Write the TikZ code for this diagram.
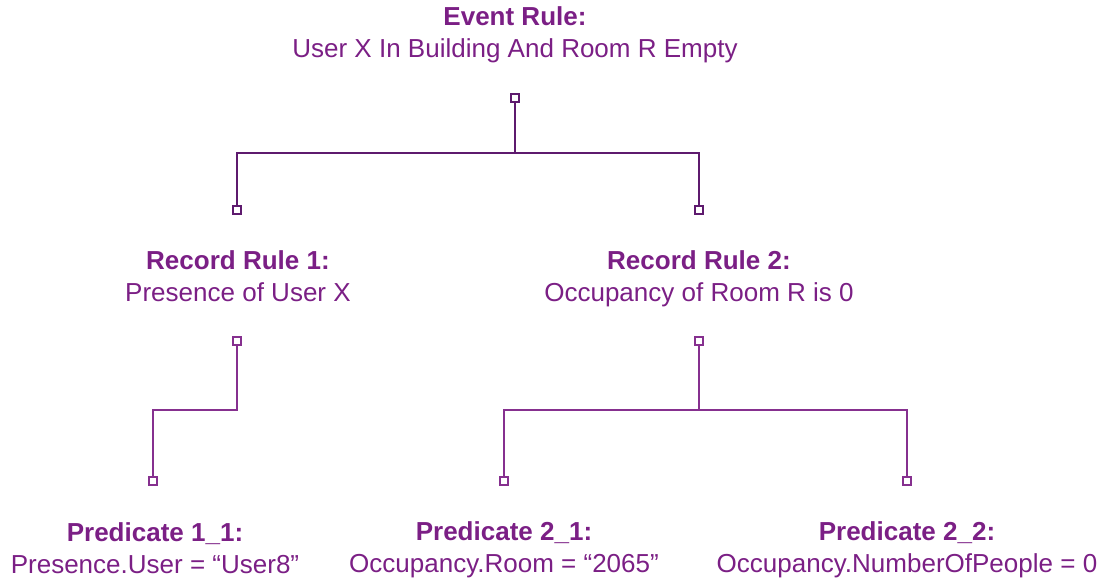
\documentclass[tikz,border=0pt]{standalone}
\usepackage{fontspec}
\setmainfont{Liberation Sans}
\usepackage{xcolor}
\usepackage{tikz}
\usetikzlibrary{positioning}

\definecolor{rulepurple}{HTML}{7B1F85}
\definecolor{wiredark}{HTML}{5E1A6E}
\definecolor{wirelight}{HTML}{86308F}

\begin{document}
\begin{tikzpicture}[
  x=0.025cm, y=-0.025cm,
  rule/.style={align=center, text=rulepurple, inner sep=0pt,
               font=\fontsize{18.5}{22.5}\selectfont},
  port/.style={draw, line width=1.4pt, minimum size=5.5pt, inner sep=0pt},
  wire/.style={line width=1.8pt}
]
  \useasboundingbox (0,0) rectangle (1101,579);

  % texts
  \node[rule] (event) at (515,35)  {\textbf{Event Rule:}\\User X In Building And Room R Empty};
  \node[rule] (rec1)  at (238,276) {\textbf{Record Rule 1:}\\Presence of User X};
  \node[rule] (rec2)  at (699,279) {\textbf{Record Rule 2:}\\Occupancy of Room R is 0};
  \node[rule] (pred11) at (155,548) {\textbf{Predicate 1\_1:}\\Presence.User = “User8”};
  \node[rule] (pred21) at (504,550) {\textbf{Predicate 2\_1:}\\Occupancy.Room = “2065”};
  \node[rule] (pred22) at (907,550) {\textbf{Predicate 2\_2:}\\Occupancy.NumberOfPeople = 0};

  % ports
  \node[port, wiredark]   (eventout) at (515,98)  {};
  \node[port, wiredark]   (rec1in)   at (237,210) {};
  \node[port, wiredark]   (rec2in)   at (699,210) {};
  \node[port, wirelight]  (rec1out)  at (237,341) {};
  \node[port, wirelight]  (rec2out)  at (699,341) {};
  \node[port, wirelight]  (pred11in) at (153,481) {};
  \node[port, wirelight]  (pred21in) at (504,481) {};
  \node[port, wirelight]  (pred22in) at (907,481) {};

  \coordinate (split1) at (515,153);
  \coordinate (bend1)  at (153,410);
  \coordinate (split2) at (699,410);

  % connectors
  \draw[wire, wiredark] (eventout) -- (split1) -| (rec1in);
  \draw[wire, wiredark] (split1) -| (rec2in);
  \draw[wire, wirelight] (rec1out) |- (bend1) -- (pred11in);
  \draw[wire, wirelight] (rec2out) -- (split2) -| (pred21in);
  \draw[wire, wirelight] (split2) -| (pred22in);
\end{tikzpicture}
\end{document}
